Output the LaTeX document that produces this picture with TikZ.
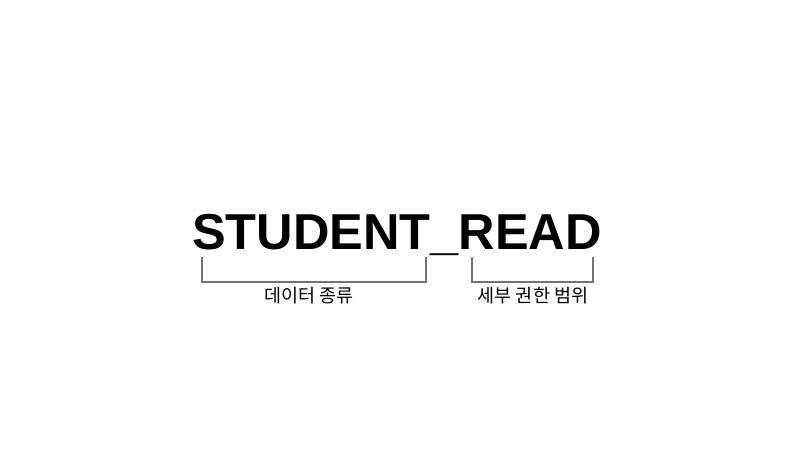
\documentclass[tikz,border=0pt]{standalone}
\usepackage{fontspec}
\setmainfont{Liberation Sans}
\newfontfamily\krfont{Noto Sans CJK KR}
\begin{document}
\begin{tikzpicture}[x=1pt,y=1pt,line cap=butt]
        % Colors
        \colorlet{bracketcolor}{black!55}
        % Styles
        \tikzstyle{name text}=[inner sep=0pt,font=\fontsize{50.5}{50.5}\selectfont\bfseries]
        \tikzstyle{part label}=[inner sep=0pt,font=\krfont\fontsize{18.5}{18.5}\selectfont]
        \tikzstyle{bracket}=[draw=bracketcolor,line width=1.2pt]
        %The graphic
        \useasboundingbox (0,0) rectangle (795,465);
        \node[name text,anchor=base] (name) at (397,215) {STUDENT\_READ};
        % Brackets
        \coordinate (data top l) at (202,208);
        \coordinate (data top r) at (426,208);
        \coordinate (scope top l) at (472,208);
        \coordinate (scope top r) at (593,208);
        \draw[bracket] (data top l) -- ++(0,-25) -| (data top r);
        \draw[bracket] (scope top l) -- ++(0,-25) -| (scope top r);
        % Labels
        \node[part label] (data) at (309,169.5) {데이터 종류};
        \node[part label] (scope) at (533,169.5) {세부 권한 범위};
    \end{tikzpicture}
\end{document}
